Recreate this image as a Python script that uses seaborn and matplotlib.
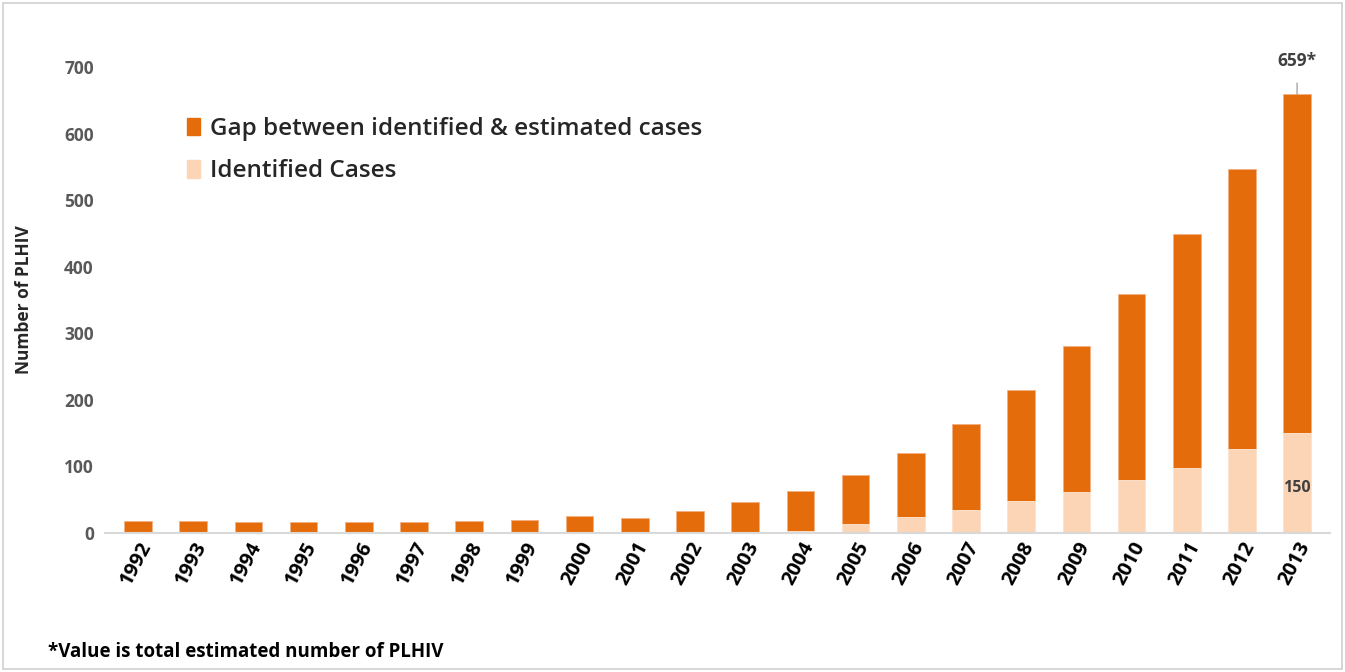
import numpy as np
import pandas as pd
import matplotlib.pyplot as plt
import matplotlib.patches as mpatches
import seaborn as sns

years = [str(y) for y in range(1992, 2014)]
total_estimated = [18, 18, 16, 16, 16, 16, 18, 20, 25, 22, 33, 46, 63, 87, 120, 163, 215, 281, 359, 449, 547, 659]
identified = [0, 0, 0, 0, 0, 0, 0, 0, 0, 0, 0, 2, 3, 14, 24, 35, 48, 61, 80, 98, 126, 150]
yticks = [0, 100, 200, 300, 400, 500, 600, 700]

dark = '#E46C0A'
light = '#FBD5B5'

sns.set_style('white')
plt.rcParams['font.family'] = ['Open Sans', 'DejaVu Sans']

df = pd.DataFrame({'year': years, 'total': total_estimated, 'identified': identified})

fig = plt.figure(figsize=(13.45, 6.72), dpi=100)
ax = fig.add_axes([0.078, 0.207, 0.911, 0.693])

# full height = estimated, then identified drawn on top from zero
sns.barplot(data=df, x='year', y='total', color=dark, width=0.5, saturation=1,
            edgecolor='#F4B183', linewidth=0.6, ax=ax)
sns.barplot(data=df, x='year', y='identified', color=light, width=0.5, saturation=1,
            edgecolor='#FDE9D9', linewidth=0.6, ax=ax)

ax.set_ylim(0, 700)
ax.set_xlim(-0.6, len(years) - 0.4)
ax.set_yticks(yticks)
ax.set_yticklabels([str(t) for t in yticks], fontsize=12.5, fontweight='bold', color='#595959')
ax.set_xticks(range(len(years)))
ax.set_xticklabels(years, rotation=62, ha='right', rotation_mode='anchor',
                   fontsize=14.5, fontweight='bold', color='black')
ax.tick_params(axis='y', length=0, pad=8)
ax.tick_params(axis='x', length=0, pad=4)
ax.set_xlabel('')
ax.set_ylabel('Number of PLHIV', fontsize=12.5, fontweight='bold', labelpad=22)

for s in ['top', 'right', 'left']:
    ax.spines[s].set_visible(False)
ax.spines['bottom'].set_color('#D9D9D9')
ax.spines['bottom'].set_linewidth(1.5)

# annotations on the last bar
last = len(years) - 1
ax.annotate(f'{total_estimated[-1]}*', xy=(last, total_estimated[-1]),
            xytext=(last, total_estimated[-1] + 50), ha='center', va='center',
            fontsize=12.5, fontweight='bold', color='#404040',
            arrowprops=dict(arrowstyle='-', color='#A6A6A6', lw=1, shrinkA=7, shrinkB=0))
ax.text(last, identified[-1] * 0.45, str(identified[-1]), ha='center', va='center',
        fontsize=11.5, fontweight='bold', color='#404040')

handles = [mpatches.Patch(color=dark, label='Gap between identified & estimated cases'),
           mpatches.Patch(color=light, label='Identified Cases')]
leg = ax.legend(handles=handles, loc='upper left', bbox_to_anchor=(0.049, 0.94), frameon=False,
                fontsize=17.5, handlelength=0.55, handleheight=0.75, handletextpad=0.4,
                labelspacing=0.75)
for t in leg.get_texts():
    t.set_fontweight('semibold')

fig.text(0.036, 0.022, '*Value is total estimated number of PLHIV', fontsize=13.5,
         fontweight='bold', color='black')

# light grey frame around the chart
fig.patches.append(mpatches.Rectangle((0.002, 0.004), 0.996, 0.992, transform=fig.transFigure,
                                      fill=False, edgecolor='#D0D0D0', linewidth=1.2))

fig.savefig('out.png', dpi=100)
